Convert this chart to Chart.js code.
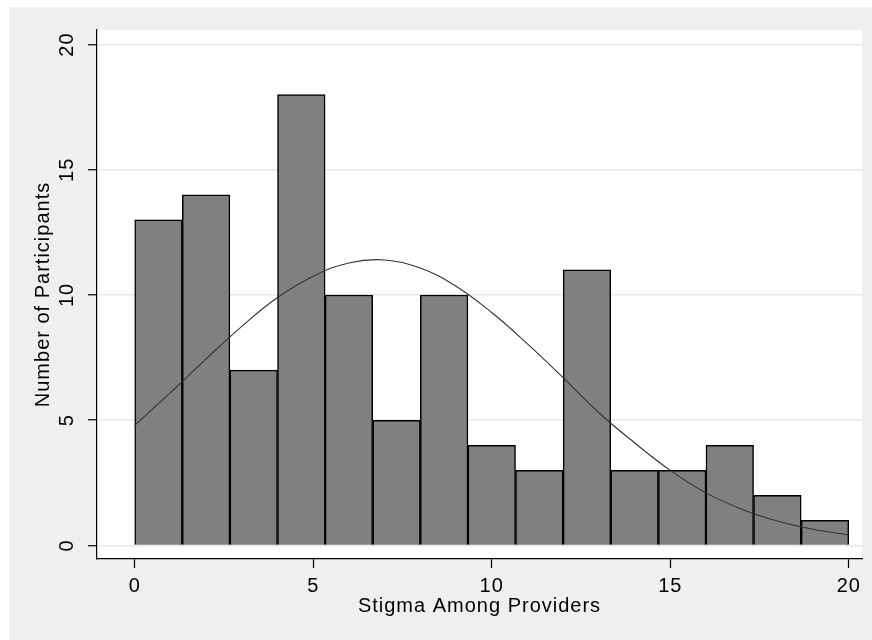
<!DOCTYPE html>
<html>
<head>
<meta charset="utf-8">
<script src="https://cdn.jsdelivr.net/npm/chart.js@4"></script>
<style>
  html, body { margin: 0; padding: 0; background: #ffffff; }
  #wrap { position: absolute; left: 9px; top: 7px; width: 863px; height: 633px; background: #efefef; }
</style>
</head>
<body>
<div id="wrap"><canvas id="chart"></canvas></div>
<script>
// histogram: 15 bins across 0..20
var binStarts = [0, 1.333, 2.667, 4, 5.333, 6.667, 8, 9.333, 10.667, 12, 13.333, 14.667, 16, 17.333, 18.667];
var binWidth = 1.333;
var counts = [13, 14, 7, 18, 10, 5, 10, 4, 3, 11, 3, 3, 4, 2, 1];

// normal curve overlay
var curveX = [0, 1, 2, 3, 4, 5, 6, 7, 8, 9, 10, 11, 12, 13, 14, 15, 16, 17, 18, 19, 20];
var curveY = [4.8, 6.1, 7.45, 8.75, 9.9, 10.75, 11.28, 11.4, 11.08, 10.35, 9.3, 8.05, 6.7, 5.3, 4.1, 3.0, 2.1, 1.45, 0.98, 0.65, 0.42];

var tickValues = [0, 5, 10, 15, 20];

var bars = binStarts.map(function (s, i) { return { x: s + binWidth / 2, y: counts[i] }; });
var curve = curveX.map(function (x, i) { return { x: x, y: curveY[i] }; });

var FONT = '"Liberation Sans", Arial, sans-serif';

var plotBg = {
  id: 'plotBg',
  beforeDraw: function (chart) {
    var a = chart.chartArea, ctx = chart.ctx;
    ctx.save();
    ctx.fillStyle = '#ffffff';
    ctx.fillRect(a.left, a.top, a.right - a.left, a.bottom - a.top);
    ctx.restore();
    ctx.letterSpacing = '1px';
  }
};

// y tick labels are rotated, reading bottom to top
var yLabels = {
  id: 'yLabels',
  afterDraw: function (chart) {
    var sc = chart.scales.y, ctx = chart.ctx;
    ctx.save();
    ctx.font = '20px ' + FONT;
    ctx.fillStyle = '#000';
    ctx.textAlign = 'center';
    ctx.textBaseline = 'middle';
    sc.ticks.forEach(function (t) {
      ctx.save();
      ctx.translate(sc.right - 30, sc.getPixelForValue(t.value));
      ctx.rotate(-Math.PI / 2);
      ctx.fillText(String(t.value), 0, 0);
      ctx.restore();
    });
    ctx.restore();
  }
};

function fixedTicks(scale) {
  scale.ticks = tickValues.map(function (v) { return { value: v }; });
}

new Chart(document.getElementById('chart'), {
  data: {
    datasets: [
      {
        type: 'line',
        data: curve,
        borderColor: '#333333',
        borderWidth: 1.1,
        pointRadius: 0,
        tension: 0.4,
        fill: false
      },
      {
        type: 'bar',
        data: bars,
        backgroundColor: '#808080',
        borderColor: '#000000',
        borderWidth: 1.5,
        barPercentage: 1,
        categoryPercentage: 1
      }
    ]
  },
  options: {
    responsive: true,
    maintainAspectRatio: false,
    animation: false,
    layout: { padding: { top: 23, right: 10, left: 0, bottom: 0 } },
    plugins: { legend: { display: false }, tooltip: { enabled: false } },
    scales: {
      x: {
        type: 'linear',
        offset: false,
        min: -1.056,
        max: 20.37,
        afterBuildTicks: fixedTicks,
        afterFit: function (s) { s.height = 81; },
        grid: { offset: false, drawOnChartArea: false, drawTicks: true, tickLength: 9, tickColor: '#000', tickWidth: 1.2 },
        border: { display: true, color: '#000', width: 1.2 },
        ticks: { color: '#000', font: { family: FONT, size: 20 }, padding: 6, maxRotation: 0 },
        title: { display: true, text: 'Stigma Among Providers', color: '#000', font: { family: FONT, size: 20 }, padding: { top: 0, bottom: 22 } }
      },
      y: {
        min: -0.54,
        max: 20.58,
        afterBuildTicks: fixedTicks,
        afterFit: function (s) { s.width = 88; },
        grid: { color: '#e8e8e8', lineWidth: 1.5, drawTicks: true, tickLength: 9, tickColor: '#000', tickWidth: 1.2 },
        border: { display: true, color: '#000', width: 1.2 },
        ticks: { display: false },
        title: { display: true, text: 'Number of Participants', color: '#000', font: { family: FONT, size: 20 }, padding: { top: 22, bottom: 0 } }
      }
    }
  },
  plugins: [plotBg, yLabels]
});
</script>
</body>
</html>
